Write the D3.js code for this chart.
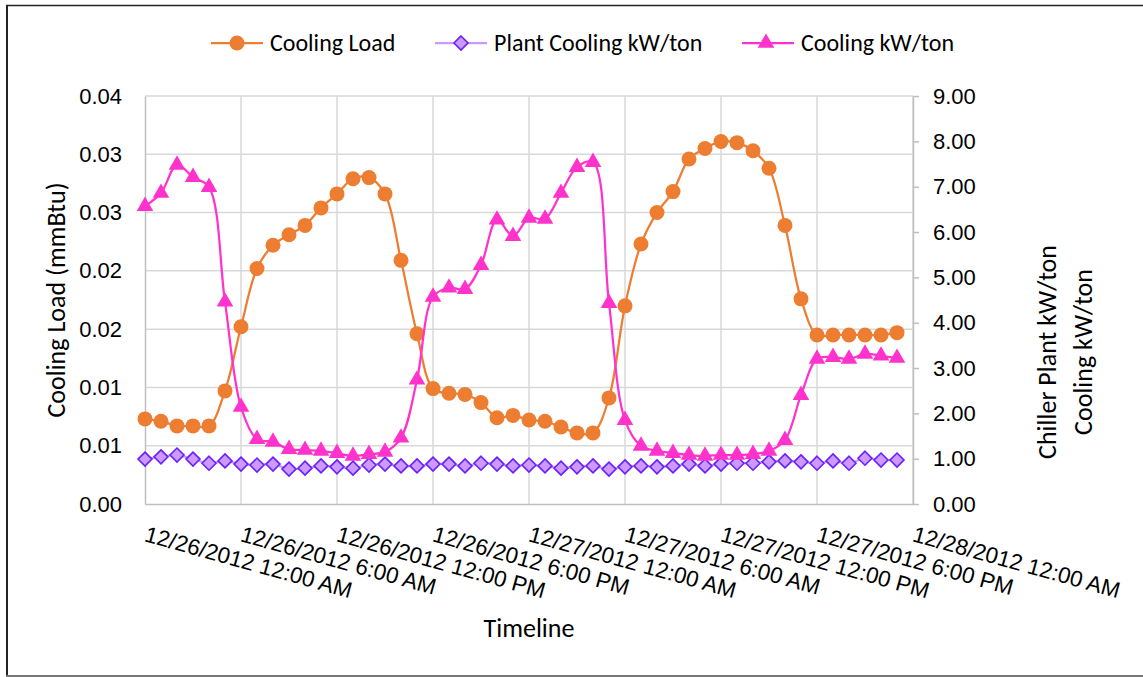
<!DOCTYPE html>
<html>
<head>
<meta charset="utf-8">
<script src="https://cdn.jsdelivr.net/npm/d3@7"></script>
<style>
  html, body { margin: 0; padding: 0; background: #fff; }
  svg { display: block; font-family: Carlito, Calibri, Lato, "Open Sans", sans-serif; }
</style>
</head>
<body>
<svg id="chart" width="1143" height="677"></svg>
<script>
// Hourly readings, 12/26/2012 12:00 AM through 12/27/2012 11:00 PM
const startTime = new Date(2012, 11, 26, 0, 0);
const endTime = new Date(2012, 11, 28, 0, 0);

// Cooling load (mmBtu), left axis
const coolingLoad = [
  0.0073, 0.0071, 0.0067, 0.0067, 0.0067, 0.0097, 0.0152, 0.0202,
  0.0222, 0.0231, 0.0239, 0.0254, 0.0266, 0.0279, 0.0280, 0.0266,
  0.0209, 0.0146, 0.0099, 0.0095, 0.0094, 0.0087, 0.0074, 0.0076,
  0.0072, 0.0071, 0.0066, 0.0061, 0.0061, 0.0091, 0.0170, 0.0223,
  0.0250, 0.0268, 0.0296, 0.0305, 0.0311, 0.0310, 0.0303, 0.0288,
  0.0239, 0.0176, 0.0145, 0.0145, 0.0145, 0.0145, 0.0145, 0.0147
];

// Chiller plant kW/ton, right axis
const plantKwTon = [
  0.99, 1.04, 1.08, 0.99, 0.90, 0.95, 0.88, 0.86,
  0.88, 0.77, 0.79, 0.84, 0.82, 0.79, 0.86, 0.88,
  0.84, 0.84, 0.88, 0.88, 0.84, 0.90, 0.88, 0.84,
  0.86, 0.84, 0.79, 0.82, 0.84, 0.77, 0.82, 0.84,
  0.82, 0.84, 0.88, 0.84, 0.88, 0.90, 0.90, 0.93,
  0.95, 0.93, 0.90, 0.95, 0.90, 1.01, 0.97, 0.97
];

// Cooling kW/ton, right axis
const coolingKwTon = [
  6.57, 6.86, 7.48, 7.21, 6.99, 4.46, 2.14, 1.43,
  1.37, 1.21, 1.19, 1.17, 1.12, 1.06, 1.10, 1.15,
  1.46, 2.74, 4.57, 4.77, 4.74, 5.27, 6.27, 5.91,
  6.31, 6.29, 6.86, 7.43, 7.54, 4.43, 1.85, 1.28,
  1.17, 1.12, 1.08, 1.06, 1.08, 1.08, 1.10, 1.17,
  1.41, 2.40, 3.20, 3.24, 3.20, 3.31, 3.27, 3.22
];

const times = coolingLoad.map((_, i) => d3.timeHour.offset(startTime, i));

// Axis ticks and their labels
const leftTicks = [0, 0.005, 0.01, 0.015, 0.02, 0.025, 0.03, 0.035];
const leftTickLabels = ["0.00", "0.01", "0.01", "0.02", "0.02", "0.03", "0.03", "0.04"];
const rightTicks = [0, 1, 2, 3, 4, 5, 6, 7, 8, 9];
const xTicks = d3.range(9).map(i => d3.timeHour.offset(startTime, i * 6));
const xTickLabels = [
  "12/26/2012 12:00 AM", "12/26/2012 6:00 AM", "12/26/2012 12:00 PM", "12/26/2012 6:00 PM",
  "12/27/2012 12:00 AM", "12/27/2012 6:00 AM", "12/27/2012 12:00 PM", "12/27/2012 6:00 PM",
  "12/28/2012 12:00 AM"
];

const seriesNames = ["Cooling Load", "Plant Cooling kW/ton", "Cooling kW/ton"];
const colors = { load: "#ED7D31", plantLine: "#CC99FF", plantEdge: "#6A1FFF", cooling: "#FF33CC" };

const svg = d3.select("#chart");
const W = 1143, H = 677;
const plot = { left: 145, right: 913, top: 96, bottom: 504 };

svg.append("rect").attr("width", W).attr("height", H).attr("fill", "#fff");

// Chart frame
svg.append("line").attr("x1", 6).attr("x2", W).attr("y1", 5.5).attr("y2", 5.5)
  .attr("stroke", "#222").attr("stroke-width", 1.5);
svg.append("line").attr("x1", 7).attr("x2", 7).attr("y1", 5).attr("y2", H)
  .attr("stroke", "#222").attr("stroke-width", 2);
svg.append("line").attr("x1", 6).attr("x2", W).attr("y1", 676).attr("y2", 676)
  .attr("stroke", "#777").attr("stroke-width", 2);

const x = d3.scaleTime().domain([startTime, endTime]).range([plot.left, plot.right]);
const yL = d3.scaleLinear().domain([0, 0.035]).range([plot.bottom, plot.top]);
const yR = d3.scaleLinear().domain([0, 9]).range([plot.bottom, plot.top]);

// Gridlines
const grid = svg.append("g").attr("stroke", "#D9D9D9").attr("stroke-width", 1.5);
grid.selectAll("line.h").data(leftTicks.slice(1)).join("line")
  .attr("x1", plot.left).attr("x2", plot.right)
  .attr("y1", d => yL(d)).attr("y2", d => yL(d));
grid.selectAll("line.v").data(xTicks.slice(1)).join("line")
  .attr("x1", d => x(d)).attr("x2", d => x(d))
  .attr("y1", plot.top).attr("y2", plot.bottom);

// Left axis
const leftAxis = d3.axisLeft(yL).tickValues(leftTicks)
  .tickFormat((d, i) => leftTickLabels[i]).tickSize(0).tickPadding(23);
const gL = svg.append("g").attr("transform", `translate(${plot.left},0)`).call(leftAxis);
gL.select(".domain").attr("stroke", "#BFBFBF").attr("stroke-width", 1.5);
gL.selectAll("text").attr("font-size", 22).attr("fill", "#000").attr("font-family", null);

// Right axis
const rightAxis = d3.axisRight(yR).tickValues(rightTicks)
  .tickFormat(d3.format(".2f")).tickSize(6).tickSizeOuter(0).tickPadding(14);
const gR = svg.append("g").attr("transform", `translate(${plot.right},0)`).call(rightAxis);
gR.select(".domain").attr("stroke", "#BFBFBF").attr("stroke-width", 1.5);
gR.selectAll(".tick line").attr("stroke", "#BFBFBF").attr("stroke-width", 1.5);
gR.selectAll("text").attr("font-size", 22).attr("fill", "#000").attr("font-family", null);

// Bottom axis with slanted date labels
const bottomAxis = d3.axisBottom(x).tickValues(xTicks)
  .tickFormat((d, i) => xTickLabels[i]).tickSize(0).tickSizeOuter(0);
const gB = svg.append("g").attr("transform", `translate(0,${plot.bottom})`).call(bottomAxis);
gB.select(".domain").attr("stroke", "#BFBFBF").attr("stroke-width", 1.5);
gB.selectAll("text")
  .attr("font-size", 22.5).attr("fill", "#000").attr("font-family", null)
  .attr("text-anchor", "start").attr("y", 0).attr("dy", 0)
  .attr("transform", "translate(-2,37) rotate(15.5)");

// Axis titles
svg.append("text").attr("transform", "translate(65,300) rotate(-90)")
  .attr("text-anchor", "middle").attr("font-size", 26).text("Cooling Load (mmBtu)");
const rTitle = svg.append("text").attr("transform", "translate(1056,352) rotate(-90)")
  .attr("text-anchor", "middle").attr("font-size", 26);
rTitle.append("tspan").attr("x", 0).attr("y", 0).text("Chiller Plant kW/ton");
rTitle.append("tspan").attr("x", 0).attr("y", 36).text("Cooling kW/ton");
svg.append("text").attr("x", (plot.left + plot.right) / 2).attr("y", 637)
  .attr("text-anchor", "middle").attr("font-size", 26).text("Timeline");

// Marker shapes
const triangle = d3.symbol().type(d3.symbolTriangle).size(120);
const diamondPath = "M0,-7L7,0L0,7L-7,0Z";

const curve = d3.curveCatmullRom.alpha(0.5);

// Cooling load (left axis)
const loadLine = d3.line().x((d, i) => x(times[i])).y(d => yL(d)).curve(curve);
svg.append("path").datum(coolingLoad).attr("d", loadLine)
  .attr("fill", "none").attr("stroke", colors.load).attr("stroke-width", 2.25);
svg.append("g").selectAll("circle").data(coolingLoad).join("circle")
  .attr("cx", (d, i) => x(times[i])).attr("cy", d => yL(d)).attr("r", 7.5)
  .attr("fill", colors.load);

// Plant kW/ton (right axis)
const rLine = d3.line().x((d, i) => x(times[i])).y(d => yR(d)).curve(curve);
svg.append("path").datum(plantKwTon).attr("d", rLine)
  .attr("fill", "none").attr("stroke", colors.plantLine).attr("stroke-width", 2.25);
svg.append("g").selectAll("path").data(plantKwTon).join("path")
  .attr("d", diamondPath)
  .attr("transform", (d, i) => `translate(${x(times[i])},${yR(d)})`)
  .attr("fill", colors.plantLine).attr("stroke", colors.plantEdge).attr("stroke-width", 1.6);

// Cooling kW/ton (right axis)
svg.append("path").datum(coolingKwTon).attr("d", rLine)
  .attr("fill", "none").attr("stroke", colors.cooling).attr("stroke-width", 2.25);
svg.append("g").selectAll("path").data(coolingKwTon).join("path")
  .attr("d", triangle)
  .attr("transform", (d, i) => `translate(${x(times[i])},${yR(d)})`)
  .attr("fill", colors.cooling);

// Legend
const legendItems = [
  { name: seriesNames[0], x0: 211, kind: "circle" },
  { name: seriesNames[1], x0: 435, kind: "diamond" },
  { name: seriesNames[2], x0: 742, kind: "triangle" }
];
const legendY = 43;
const lg = svg.append("g");
legendItems.forEach(item => {
  const g = lg.append("g").attr("transform", `translate(${item.x0},${legendY})`);
  const c = item.kind === "circle" ? colors.load : item.kind === "diamond" ? colors.plantLine : colors.cooling;
  g.append("line").attr("x1", 0).attr("x2", 52).attr("stroke", c).attr("stroke-width", 2.25);
  if (item.kind === "circle") {
    g.append("circle").attr("cx", 26).attr("r", 7.5).attr("fill", colors.load);
  } else if (item.kind === "diamond") {
    g.append("path").attr("d", diamondPath).attr("transform", "translate(26,0)")
      .attr("fill", colors.plantLine).attr("stroke", colors.plantEdge).attr("stroke-width", 1.6);
  } else {
    g.append("path").attr("d", triangle).attr("transform", "translate(24,0)").attr("fill", colors.cooling);
  }
  g.append("text").attr("x", 59).attr("y", 8).attr("font-size", 24).text(item.name);
});
</script>
</body>
</html>
